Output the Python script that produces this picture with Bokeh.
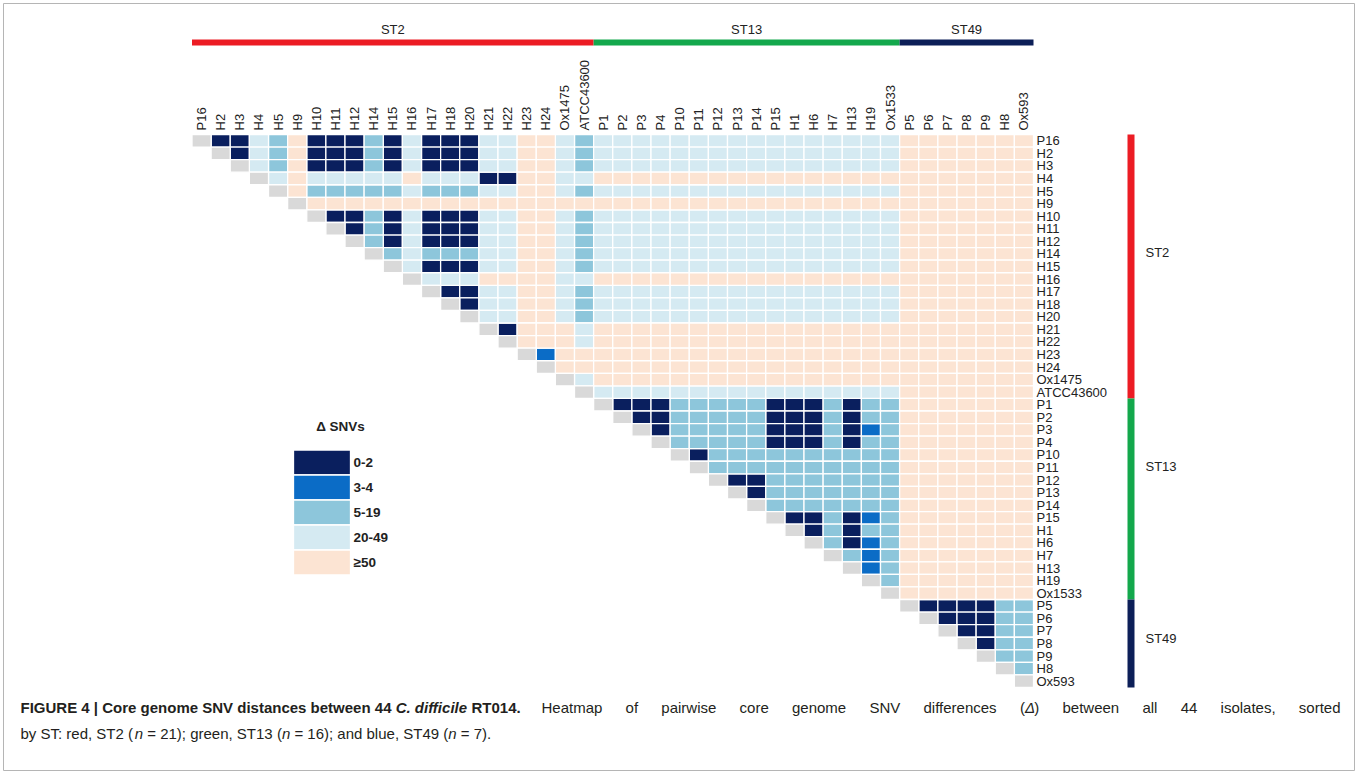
import math
from bokeh.plotting import figure
from bokeh.models import ColumnDataSource, Label, Range1d
from bokeh.core.properties import value
from bokeh.embed import file_html
from bokeh.resources import INLINE

# ---------------- data ----------------
isolates = ["P16", "H2", "H3", "H4", "H5", "H9", "H10", "H11", "H12", "H14", "H15",
            "H16", "H17", "H18", "H20", "H21", "H22", "H23", "H24", "Ox1475", "ATCC43600",
            "P1", "P2", "P3", "P4", "P10", "P11", "P12", "P13", "P14", "P15",
            "H1", "H6", "H7", "H13", "H19", "Ox1533",
            "P5", "P6", "P7", "P8", "P9", "H8", "Ox593"]
st_groups = ["ST2", "ST13", "ST49"]
st_sizes = [21, 16, 7]
st_colors = ["#ec1c24", "#13a84c", "#0c1f58"]

snv_classes = ["0-2", "3-4", "5-19", "20-49", "\u226550"]
class_codes = ["D", "M", "S", "L", "P"]
class_colors = ["#0a1f5e", "#0b6cc6", "#8dc6db", "#d5eaf2", "#fce4d3"]
diag_color = "#d9d9d9"

# upper triangle: row i lists the class of pairs (i, j) for j = i+1 .. 43
# (blocks separated by spaces: ST2 columns | ST13 columns | ST49 columns)
upper_rows = [
    "DDLSPDDDSDLDDDLLPPLS LLLLLLLLLLLLLLLL PPPPPPP",   # P16
    "DLSPDDDSDLDDDLLPPLS LLLLLLLLLLLLLLLL PPPPPPP",    # H2
    "LSPDDDSDLDDDLLPPLS LLLLLLLLLLLLLLLL PPPPPPP",     # H3
    "LPLLLLLPLLLDDPPLL PPPPPPPPPPPPPPPP PPPPPPP",      # H4
    "PSSSSSLSSSLLPPLS LLLLLLLLLLLLLLLL PPPPPPP",       # H5
    "PPPPPPPPPPPPPPP PPPPPPPPPPPPPPPP PPPPPPP",        # H9
    "DDSDLDDDLLPPLS LLLLLLLLLLLLLLLL PPPPPPP",         # H10
    "DSDLDDDLLPPLS LLLLLLLLLLLLLLLL PPPPPPP",          # H11
    "SDLDDDLLPPLS LLLLLLLLLLLLLLLL PPPPPPP",           # H12
    "SLSSSLLPPLS LLLLLLLLLLLLLLLL PPPPPPP",            # H14
    "LDDDLLPPLS LLLLLLLLLLLLLLLL PPPPPPP",             # H15
    "LLLPPPPLL PPPPPPPPPPPPPPPP PPPPPPP",              # H16
    "DDLLPPLS LLLLLLLLLLLLLLLL PPPPPPP",               # H17
    "DLLPPLS LLLLLLLLLLLLLLLL PPPPPPP",                # H18
    "LLPPLS LLLLLLLLLLLLLLLL PPPPPPP",                 # H20
    "DPPPL PPPPPPPPPPPPPPPP PPPPPPP",                  # H21
    "PPPL PPPPPPPPPPPPPPPP PPPPPPP",                   # H22
    "MPP PPPPPPPPPPPPPPPP PPPPPPP",                    # H23
    "PP PPPPPPPPPPPPPPPP PPPPPPP",                     # H24
    "L PPPPPPPPPPPPPPPP PPPPPPP",                      # Ox1475
    "LLLLLLLLLLLLLLLL PPPPPPP",                        # ATCC43600
    "DDDSSSSSDDDSDSS PPPPPPP",                         # P1
    "DDSSSSSDDDSDSS PPPPPPP",                          # P2
    "DSSSSSDDDSDMS PPPPPPP",                           # P3
    "SSSSSDDDSDSS PPPPPPP",                            # P4
    "DSSSSSSSSSS PPPPPPP",                             # P10
    "SSSSSSSSSS PPPPPPP",                              # P11
    "DDSSSSSSS PPPPPPP",                               # P12
    "DSSSSSSS PPPPPPP",                                # P13
    "SSSSSSS PPPPPPP",                                 # P14
    "DDSDMS PPPPPPP",                                  # P15
    "DSDSS PPPPPPP",                                   # H1
    "SDMS PPPPPPP",                                    # H6
    "SMS PPPPPPP",                                     # H7
    "MS PPPPPPP",                                      # H13
    "S PPPPPPP",                                       # H19
    "PPPPPPP",                                         # Ox1533
    "DDDDSS",                                          # P5
    "DDDSS",                                           # P6
    "DDSS",                                            # P7
    "DSS",                                             # P8
    "SS",                                              # P9
    "S",                                               # H8
    "",                                                # Ox593
]

caption_title_runs = [
    ("FIGURE 4 | Core genome SNV distances between 44 ", "bold"),
    ("C. difficile", "bold italic"),
    (" RT014.", "bold"),
]
caption_body_words = [
    [("Heatmap", "normal")], [("of", "normal")], [("pairwise", "normal")], [("core", "normal")],
    [("genome", "normal")], [("SNV", "normal")], [("differences", "normal")],
    [("(", "normal"), ("\u0394", "italic"), (")", "normal")],
    [("between", "normal")], [("all", "normal")], [("44", "normal")],
    [("isolates,", "normal")], [("sorted", "normal")],
]
caption_line2 = [
    ("by ST: red, ST2 (", "normal"), ("n", "italic"), (" = 21); green, ST13 (", "normal"),
    ("n", "italic"), (" = 16); and blue, ST49 (", "normal"), ("n", "italic"), (" = 7).", "normal"),
]

# ---------------- geometry (page pixels) ----------------
W, H = 1358, 775
HM_LEFT, HM_RIGHT, HM_TOP, HM_BOTTOM = 191.5, 1033.0, 134.0, 687.0
n = len(isolates)
FX = (HM_RIGHT - HM_LEFT) / n
FY = (HM_BOTTOM - HM_TOP) / n


def dx(px):
    return (px - HM_LEFT) / FX


def dy(py):
    return (HM_BOTTOM - py) / FY


# ---------------- build cells ----------------
cells = {c: {"x": [], "y": []} for c in class_codes}
for i, row in enumerate(upper_rows):
    row = row.replace(" ", "")
    assert len(row) == n - 1 - i, (i, len(row))
    for k, code in enumerate(row):
        j = i + 1 + k
        cells[code]["x"].append(j + 0.5)
        cells[code]["y"].append(n - 0.5 - i)

FONT = "Liberation Sans"
TXT = "#222222"
p = figure(width=W, height=H, x_range=Range1d(dx(0), dx(W)), y_range=Range1d(dy(H), dy(0)),
           toolbar_location=None, output_backend="svg", min_border=0,
           x_axis_type=None, y_axis_type=None)
p.grid.visible = False
p.outline_line_color = None
p.background_fill_color = "white"
p.border_fill_color = "white"

for code, color in zip(class_codes, class_colors):
    p.rect(x="x", y="y", width=1, height=1, source=ColumnDataSource(cells[code]),
           fill_color=color, line_color="white", line_width=1.3)
idx = list(range(n))
p.rect(x=[k + 0.5 for k in idx], y=[n - 0.5 - k for k in idx], width=1, height=1,
       fill_color=diag_color, line_color="white", line_width=1.3)

# tick labels: column names above, row names to the right
p.text(x=[k + 0.5 for k in idx], y=n + 4 / FY, text=isolates, angle=math.pi / 2,
       text_align="left", text_baseline="middle", text_font=value(FONT),
       text_font_size="13px", text_color=TXT)
p.text(x=n + 3 / FX, y=[n - 0.5 - k for k in idx], text=isolates,
       text_align="left", text_baseline="middle", text_font=value(FONT),
       text_font_size="13px", text_color=TXT)

# ST bars
starts, ends = [], []
s = 0
for size in st_sizes:
    starts.append(s)
    ends.append(s + size)
    s += size
p.quad(left=starts, right=ends, bottom=n + 89 / FY, top=n + 95 / FY, fill_color=st_colors, line_color=None)
p.text(x=[(a + b) / 2 for a, b in zip(starts, ends)], y=n + 105 / FY, text=st_groups,
       text_align="center", text_baseline="middle", text_font=value(FONT),
       text_font_size="13px", text_color=TXT)
p.quad(left=n + 94 / FX, right=n + 101 / FX, bottom=[n - b for b in ends], top=[n - a for a in starts],
       fill_color=st_colors, line_color=None)
st_right_label_py = [252, 466, 638]
p.text(x=n + 112 / FX, y=[dy(v) for v in st_right_label_py], text=st_groups,
       text_align="left", text_baseline="middle", text_font=value(FONT),
       text_font_size="13px", text_color=TXT)

# legend (colour key)
LEG_L, LEG_R, LEG_T, LEG_STEP = 293, 350, 449.5, 25
kk = list(range(len(snv_classes)))
p.quad(left=dx(LEG_L), right=dx(LEG_R),
       top=[dy(LEG_T + LEG_STEP * k) for k in kk], bottom=[dy(LEG_T + LEG_STEP * (k + 1)) for k in kk],
       fill_color=class_colors, line_color="white", line_width=1.3)
p.text(x=dx(LEG_R + 3), y=[dy(LEG_T + LEG_STEP * (k + 0.5)) for k in kk], text=snv_classes,
       text_align="left", text_baseline="middle", text_font=value(FONT), text_font_size="13.5px",
       text_font_style="bold", text_color=TXT)
p.add_layout(Label(x=dx(340), y=dy(426), text="\u0394 SNVs", text_align="center", text_baseline="middle",
                   text_font=FONT, text_font_size="13.5px", text_font_style="bold", text_color=TXT))

# outer frame
p.quad(left=dx(3), right=dx(1354), bottom=dy(770), top=dy(3), fill_color=None,
       line_color="#b5b5b5", line_width=1)

# ---------------- caption ----------------
CAP_SIZE = 15.0
REG = {' ': 278, '(': 333, ')': 333, ',': 278, '.': 278, ':': 278, ';': 278, '=': 584, '|': 260,
       'H': 722, 'N': 722, 'S': 667, 'T': 611, 'V': 667, '\u0394': 612,
       'a': 556, 'b': 556, 'c': 500, 'd': 556, 'e': 556, 'f': 278, 'g': 556, 'i': 222, 'l': 222,
       'm': 833, 'n': 556, 'o': 556, 'p': 556, 'r': 333, 's': 500, 't': 278, 'u': 556, 'w': 722, 'y': 500}
BLD = {' ': 278, '|': 280, '.': 278, 'C': 722, 'E': 667, 'F': 611, 'G': 778, 'I': 278, 'N': 722,
       'R': 722, 'S': 667, 'T': 611, 'U': 722, 'V': 667,
       'a': 556, 'b': 611, 'c': 556, 'd': 611, 'e': 556, 'f': 333, 'g': 611, 'i': 278, 'l': 278,
       'm': 889, 'n': 611, 'o': 611, 'r': 389, 's': 556, 't': 333, 'w': 778}


def tw(txt, style):
    table = BLD if "bold" in style else REG
    return sum(table.get(ch, 556) for ch in txt) * CAP_SIZE / 1000.0


def put(txt, style, px, py):
    p.add_layout(Label(x=dx(px), y=dy(py), text=txt, text_align="left", text_baseline="middle",
                       text_font=FONT, text_font_size="%gpx" % CAP_SIZE, text_font_style=style,
                       text_color="#231f20"))


def run_line(runs, px, py):
    for txt, style in runs:
        stripped = txt.strip(" ")
        px += tw(txt[:len(txt) - len(txt.lstrip(" "))], style)
        put(stripped, style, px, py)
        px += tw(stripped, style) + tw(txt[len(txt.rstrip(" ")):], style)
    return px


LINE1_Y, LINE2_Y = 707, 733
run_line(caption_title_runs, 20, LINE1_Y)
# body of line 1 is justified between its start and the right text margin
body_start, body_end = 541, 1340
word_w = [sum(tw(t, st) for t, st in w) for w in caption_body_words]
gap = (body_end - body_start - sum(word_w)) / (len(caption_body_words) - 1)
px = body_start
for w, ww in zip(caption_body_words, word_w):
    run_line(w, px, LINE1_Y)
    px += ww + gap
run_line(caption_line2, 20, LINE2_Y)

open("out.html", "w").write(file_html(p, INLINE))
